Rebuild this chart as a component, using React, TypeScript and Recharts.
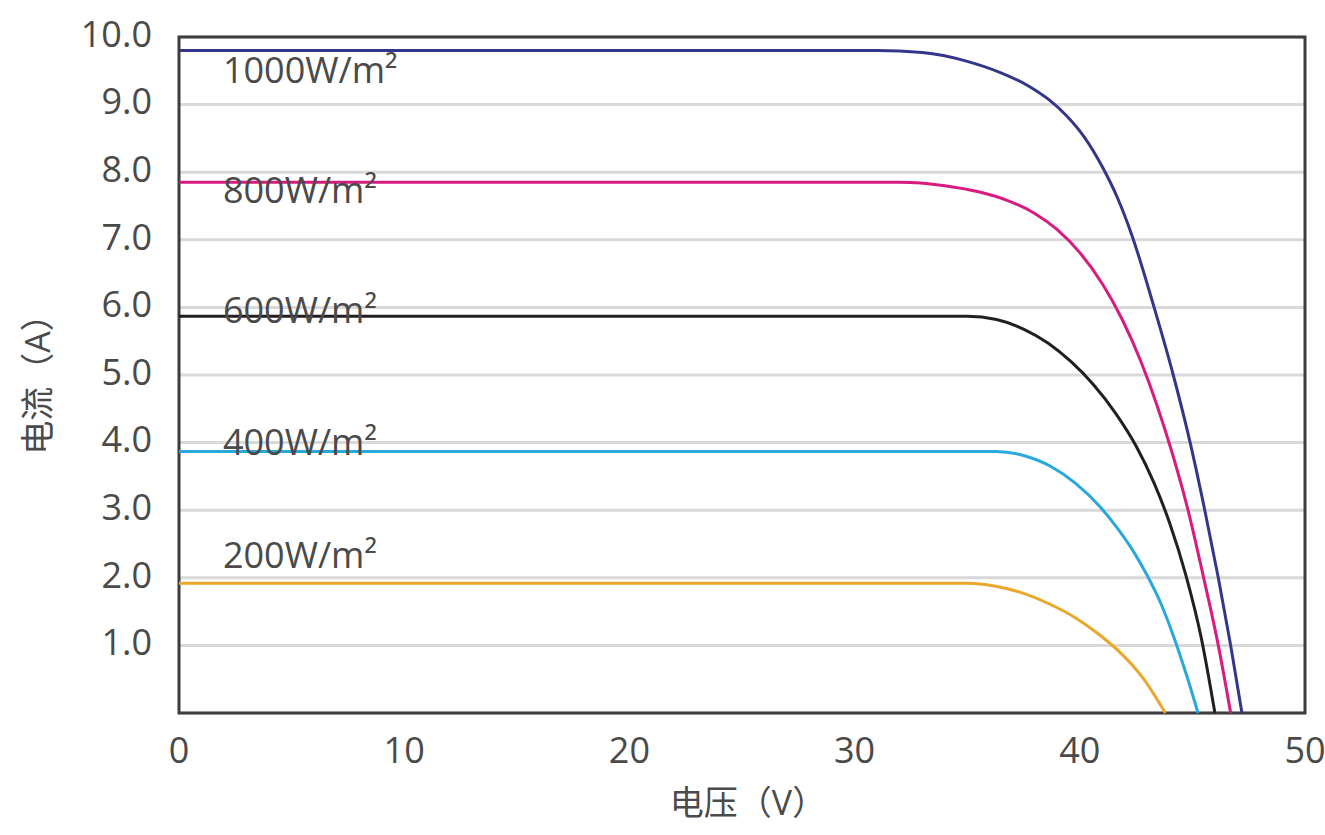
import React from "react";
import {
  LineChart,
  Line,
  XAxis,
  YAxis,
  CartesianGrid,
  ReferenceArea,
  ReferenceDot,
  Label,
} from "recharts";

const FONT = "'Open Sans', 'Noto Sans CJK SC', sans-serif";
const TEXT = "#4a4a4a";

// axes
const voltageTicks = [0, 10, 20, 30, 40, 50];
const currentTicks = [1, 2, 3, 4, 5, 6, 7, 8, 9, 10];

// irradiance curves (I-V)
const names = ["1000W/m²", "800W/m²", "600W/m²", "400W/m²", "200W/m²"];
const colors = ["#34368a", "#d81b7f", "#231f20", "#29a8dc", "#e9a72b"];

const v1000 = [0, 31, 33, 35, 36.5, 37.7, 38.6, 39.4, 40.2, 41.0, 41.7, 42.3, 43.3, 44.15, 44.9, 45.55, 46.15, 46.7, 47.2];
const i1000 = [9.8, 9.8, 9.77, 9.64, 9.47, 9.28, 9.08, 8.84, 8.52, 8.08, 7.6, 7.08, 6.0, 5.0, 4.0, 3.0, 2.0, 1.0, 0];

const v800 = [0, 32, 34, 35.5, 36.8, 38.0, 39.0, 40.0, 41.0, 41.9, 42.7, 43.4, 44.1, 44.8, 45.5, 46.15, 46.7];
const i800 = [7.85, 7.85, 7.8, 7.71, 7.58, 7.39, 7.15, 6.81, 6.35, 5.81, 5.21, 4.58, 3.85, 3.01, 2.0, 1.0, 0];

const v600 = [0, 35, 36.3, 37.5, 38.6, 39.6, 40.6, 41.6, 42.5, 43.3, 44.0, 44.7, 45.4, 46.0];
const i600 = [5.87, 5.87, 5.82, 5.68, 5.47, 5.2, 4.86, 4.43, 3.95, 3.4, 2.8, 2.05, 1.1, 0];

const v400 = [0, 36.3, 37.5, 38.7, 39.8, 40.9, 41.7, 42.4, 43.0, 43.6, 44.2, 44.75, 45.25];
const i400 = [3.87, 3.87, 3.81, 3.65, 3.4, 3.05, 2.72, 2.38, 2.03, 1.62, 1.1, 0.55, 0];

const v200 = [0, 35, 36.2, 37.4, 38.6, 39.8, 40.9, 41.9, 42.8, 43.8];
const i200 = [1.92, 1.92, 1.88, 1.78, 1.62, 1.41, 1.15, 0.86, 0.52, 0];

// where each curve's name sits (voltage, current of text baseline)
const labelV = 1.95;
const labelI = [9.32, 7.54, 5.77, 3.82, 2.14];

const toPoints = (vs: number[], is: number[]) => vs.map((v, k) => ({ v, i: is[k] }));
const series = [
  toPoints(v1000, i1000),
  toPoints(v800, i800),
  toPoints(v600, i600),
  toPoints(v400, i400),
  toPoints(v200, i200),
];

const tickStyle = { fill: TEXT, fontSize: 36, fontFamily: FONT };

export default function App() {
  return (
    <div style={{ position: "absolute", left: 0, top: 0, width: 1325, height: 835, background: "#fff" }}>
      <LineChart width={1325} height={835} margin={{ top: 37, right: 20, bottom: 0, left: 0 }}>
        <CartesianGrid vertical={false} stroke="#d9d9d9" strokeWidth={3} />
        <XAxis
          type="number"
          dataKey="v"
          domain={[0, 50]}
          ticks={voltageTicks}
          interval={0}
          height={122}
          axisLine={false}
          tickLine={false}
          tickSize={0}
          tickMargin={24}
          tick={tickStyle}
        >
          <Label
            content={({ viewBox }: any) => (
              <text
                x={viewBox.x + viewBox.width / 2 + 6}
                y={815}
                textAnchor="middle"
                fill={TEXT}
                fontSize={34}
                fontFamily={FONT}
              >
                电压（V）
              </text>
            )}
          />
        </XAxis>
        <YAxis
          type="number"
          domain={[0, 10]}
          ticks={currentTicks}
          interval={0}
          width={179}
          axisLine={false}
          tickLine={false}
          tickSize={0}
          tickMargin={27}
          tick={{ ...tickStyle, dy: -3 }}
          tickFormatter={(n: number) => n.toFixed(1)}
        >
          <Label
            content={({ viewBox }: any) => {
              const cx = 50;
              const cy = viewBox.y + viewBox.height / 2 + 1;
              return (
                <text
                  x={cx}
                  y={cy}
                  transform={`rotate(-90, ${cx}, ${cy})`}
                  textAnchor="middle"
                  fill={TEXT}
                  fontSize={34}
                  fontFamily={FONT}
                >
                  电流（A）
                </text>
              );
            }}
          />
        </YAxis>
        <ReferenceArea x1={0} x2={50} y1={0} y2={10} fill="none" stroke="#3d3d3d" strokeWidth={3} />
        {series.map((pts, k) => (
          <Line
            key={names[k]}
            data={pts}
            dataKey="i"
            type="monotone"
            stroke={colors[k]}
            strokeWidth={3}
            dot={false}
            activeDot={false}
            isAnimationActive={false}
          />
        ))}
        {names.map((name, k) => (
          <ReferenceDot
            key={"lbl" + name}
            x={labelV}
            y={labelI[k]}
            r={0}
            fill="none"
            stroke="none"
            label={{
              content: ({ viewBox }: any) => (
                <text x={viewBox.x} y={viewBox.y} fill={TEXT} fontSize={36} fontFamily={FONT}>
                  {name}
                </text>
              ),
            }}
          />
        ))}
      </LineChart>
    </div>
  );
}
